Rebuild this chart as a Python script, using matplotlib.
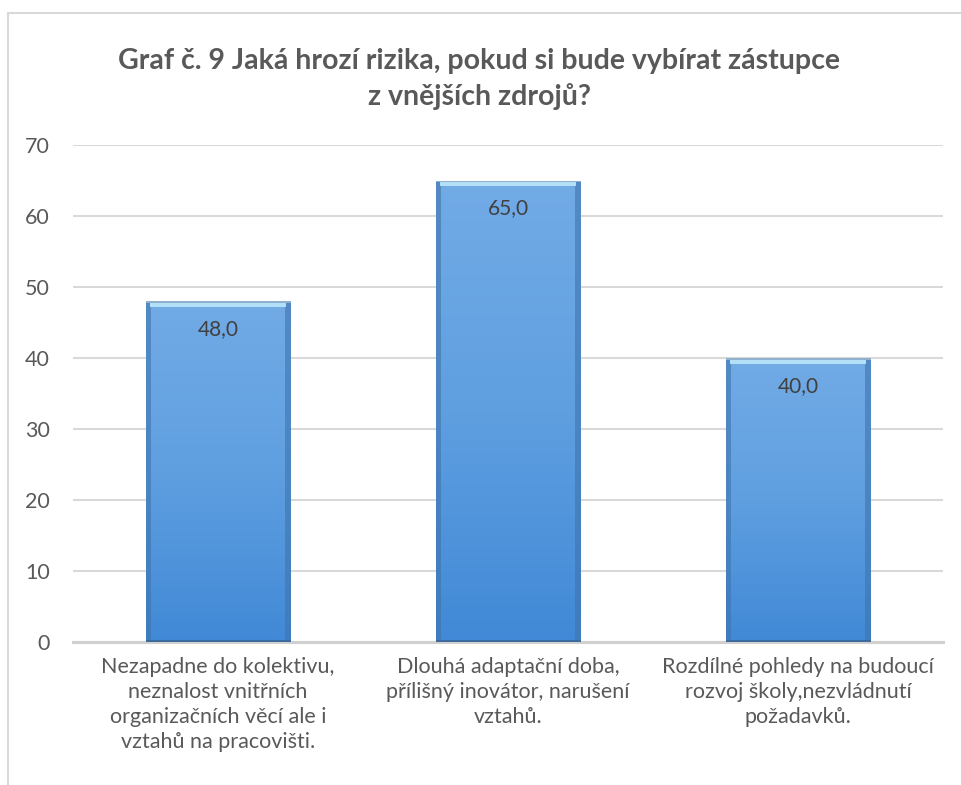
import matplotlib
matplotlib.use("Agg")
import matplotlib.pyplot as plt
import numpy as np
from matplotlib.colors import LinearSegmentedColormap
from matplotlib.patches import Rectangle

plt.rcParams['font.family'] = ['Lato', 'DejaVu Sans']

title = "Graf č. 9 Jaká hrozí rizika, pokud si bude vybírat zástupce\nz vnějších zdrojů?"
categories = [
    "Nezapadne do kolektivu,\nneznalost vnitřních\norganizačních věcí ale i\nvztahů na pracovišti.",
    "Dlouhá adaptační doba,\npřílišný inovátor, narušení\nvztahů.",
    "Rozdílné pohledy na budoucí\nrozvoj školy,nezvládnutí\npožadavků.",
]
values = [48.0, 65.0, 40.0]
yticks = [0, 10, 20, 30, 40, 50, 60, 70]

W, H = 961, 785
fig = plt.figure(figsize=(W / 100, H / 100), dpi=100)
fig.patch.set_facecolor("white")

# chart border (cropped at right/bottom)
fig.add_artist(Rectangle((8 / W, -0.1), 1.1, 1 - 13 / H + 0.1, transform=fig.transFigure,
                         fill=False, edgecolor="#d9d9d9", linewidth=1.5))

ax = fig.add_axes([73 / W, 1 - 642 / H, (943 - 73) / W, (642 - 145) / H])
x = np.arange(len(categories))
ax.set_xlim(-0.5, len(categories) - 0.5)
ax.set_ylim(0, 70)

cmap = LinearSegmentedColormap.from_list("blu", ["#4189d6", "#5f9fe0", "#72abe6"])
bars = ax.bar(x, values, width=0.5, color="none", edgecolor="none", zorder=3)
grad = np.linspace(0, 1, 256).reshape(-1, 1)
for b in bars:
    x0, w, h = b.get_x(), b.get_width(), b.get_height()
    im = ax.imshow(grad, extent=(x0, x0 + w, 0, h), origin="lower", cmap=cmap,
                   aspect="auto", zorder=3)
    im.set_clip_path(b)
    # side shading
    ax.add_patch(Rectangle((x0, 0), w * 0.035, h, color="#3e74ad", alpha=0.6, zorder=4, lw=0))
    ax.add_patch(Rectangle((x0 + w * 0.965, 0), w * 0.035, h, color="#3e74ad", alpha=0.6, zorder=4, lw=0))
    # top bevel
    ax.add_patch(Rectangle((x0 + w * 0.03, h - 0.8), w * 0.94, 0.8, color="#b3e0f6", zorder=4, lw=0))
    ax.add_patch(Rectangle((x0, h - 0.25), w, 0.25, color="#8fb0cf", zorder=4, lw=0))
    # bottom dark edge
    ax.add_patch(Rectangle((x0, 0), w, 0.35, color="#3d6a9c", zorder=4, lw=0))
    ax.text(b.get_x() + w / 2, h - 3.9, f"{h:.1f}".replace(".", ","), ha="center", va="center",
            fontsize=15, color="#404040", zorder=5)

ax.set_xticks(x)
ax.set_xticklabels(categories, fontsize=15.5, color="#595959", linespacing=1.3, va="top")
ax.set_yticks(yticks)
ax.set_yticklabels([str(t) for t in yticks], fontsize=15.5, color="#595959")
ax.tick_params(axis="both", length=0)
ax.tick_params(axis="y", pad=16.5)
ax.tick_params(axis="x", pad=11)
ax.grid(axis="y", color="#d9d9d9", linewidth=1.5, zorder=0)
ax.set_axisbelow(True)
for s in ["top", "right", "left"]:
    ax.spines[s].set_visible(False)
ax.spines["bottom"].set_color("#d0d0d0")
ax.spines["bottom"].set_linewidth(2.2)
ax.spines["bottom"].set_zorder(2)
ax.set_facecolor("none")

fig.text(479 / W, 1 - 79 / H, title, ha="center", va="center", fontsize=20.5,
         fontweight="bold", color="#595959", linespacing=1.45)

fig.savefig("out.png", dpi=100, facecolor="white")
